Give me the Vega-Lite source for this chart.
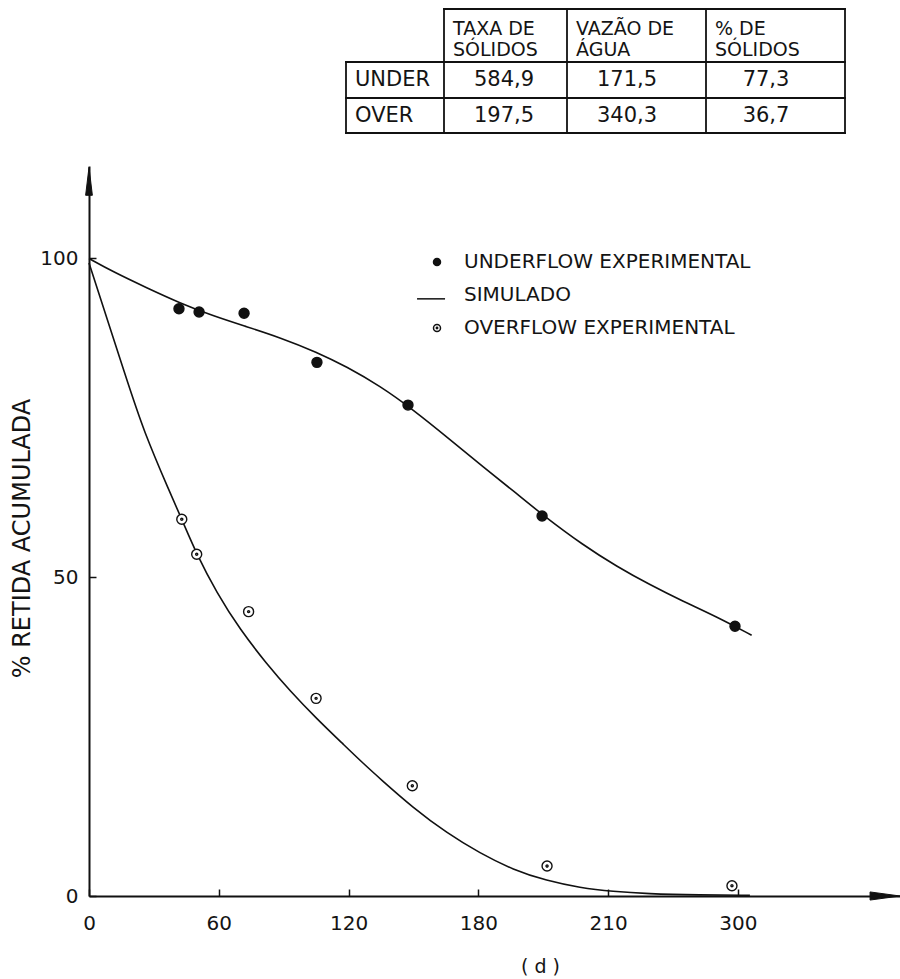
{
  "$schema": "https://vega.github.io/schema/vega-lite/v6.json",
  "width": 811,
  "height": 730,
  "autosize": "none",
  "padding": {"left": 89, "top": 166, "right": 0, "bottom": 83},
  "background": "white",
  "config": {
    "view": {"stroke": null},
    "font": "DejaVu Sans",
    "axis": {
      "grid": false,
      "labelFont": "DejaVu Sans",
      "labelFontSize": 20,
      "labelColor": "#141414",
      "titleFont": "DejaVu Sans",
      "titleFontWeight": "normal",
      "titleColor": "#141414",
      "domainColor": "#111111",
      "domainWidth": 2,
      "tickColor": "#111111",
      "tickWidth": 1.5,
      "labelFlush": false,
      "labelOverlap": false
    },
    "legend": {
      "title": null,
      "orient": "none",
      "legendX": 338,
      "legendY": 86,
      "padding": 0,
      "symbolSize": 49,
      "symbolStrokeWidth": 1.5,
      "labelFont": "DejaVu Sans",
      "labelFontSize": 20,
      "labelColor": "#141414",
      "labelOffset": 17,
      "labelLimit": 0,
      "rowPadding": 13
    }
  },
  "datasets": {
    "experimental": [
      {"serie": "UNDERFLOW EXPERIMENTAL", "d": 41.6, "retida": 92.1},
      {"serie": "UNDERFLOW EXPERIMENTAL", "d": 50.9, "retida": 91.6},
      {"serie": "UNDERFLOW EXPERIMENTAL", "d": 71.7, "retida": 91.4},
      {"serie": "UNDERFLOW EXPERIMENTAL", "d": 105.4, "retida": 83.7},
      {"serie": "UNDERFLOW EXPERIMENTAL", "d": 147.5, "retida": 77.0},
      {"serie": "UNDERFLOW EXPERIMENTAL", "d": 209.5, "retida": 59.6},
      {"serie": "UNDERFLOW EXPERIMENTAL", "d": 298.7, "retida": 42.3},
      {"serie": "OVERFLOW EXPERIMENTAL", "d": 42.9, "retida": 59.1},
      {"serie": "OVERFLOW EXPERIMENTAL", "d": 49.8, "retida": 53.6},
      {"serie": "OVERFLOW EXPERIMENTAL", "d": 73.8, "retida": 44.6},
      {"serie": "OVERFLOW EXPERIMENTAL", "d": 105.0, "retida": 31.0},
      {"serie": "OVERFLOW EXPERIMENTAL", "d": 149.5, "retida": 17.3},
      {"serie": "OVERFLOW EXPERIMENTAL", "d": 211.8, "retida": 4.7},
      {"serie": "OVERFLOW EXPERIMENTAL", "d": 297.3, "retida": 1.6}
    ],
    "simulado": [
      {"curva": "underflow", "d": 0, "retida": 100.0},
      {"curva": "underflow", "d": 11.2, "retida": 97.9},
      {"curva": "underflow", "d": 26.7, "retida": 95.4},
      {"curva": "underflow", "d": 42.1, "retida": 93.0},
      {"curva": "underflow", "d": 57.3, "retida": 91.0},
      {"curva": "underflow", "d": 72.9, "retida": 89.3},
      {"curva": "underflow", "d": 88.3, "retida": 87.6},
      {"curva": "underflow", "d": 105.4, "retida": 85.3},
      {"curva": "underflow", "d": 119.2, "retida": 83.0},
      {"curva": "underflow", "d": 134.5, "retida": 80.0},
      {"curva": "underflow", "d": 149.8, "retida": 76.3},
      {"curva": "underflow", "d": 166.9, "retida": 71.6},
      {"curva": "underflow", "d": 182.3, "retida": 67.3},
      {"curva": "underflow", "d": 197.8, "retida": 63.1},
      {"curva": "underflow", "d": 209.6, "retida": 59.8},
      {"curva": "underflow", "d": 228.6, "retida": 55.0},
      {"curva": "underflow", "d": 244.0, "retida": 51.7},
      {"curva": "underflow", "d": 259.4, "retida": 48.8},
      {"curva": "underflow", "d": 274.8, "retida": 46.2},
      {"curva": "underflow", "d": 290.2, "retida": 43.8},
      {"curva": "underflow", "d": 306.4, "retida": 40.9},
      {"curva": "overflow", "d": 0, "retida": 99.3},
      {"curva": "overflow", "d": 18.0, "retida": 80.4},
      {"curva": "overflow", "d": 25.1, "retida": 73.1},
      {"curva": "overflow", "d": 37.5, "retida": 63.2},
      {"curva": "overflow", "d": 42.9, "retida": 59.1},
      {"curva": "overflow", "d": 49.8, "retida": 53.6},
      {"curva": "overflow", "d": 59.0, "retida": 47.6},
      {"curva": "overflow", "d": 69.8, "retida": 41.8},
      {"curva": "overflow", "d": 82.2, "retida": 36.4},
      {"curva": "overflow", "d": 92.9, "retida": 32.2},
      {"curva": "overflow", "d": 105.3, "retida": 27.8},
      {"curva": "overflow", "d": 117.6, "retida": 23.8},
      {"curva": "overflow", "d": 126.8, "retida": 20.8},
      {"curva": "overflow", "d": 134.6, "retida": 18.4},
      {"curva": "overflow", "d": 150.0, "retida": 13.8},
      {"curva": "overflow", "d": 165.4, "retida": 9.9},
      {"curva": "overflow", "d": 180.8, "retida": 6.7},
      {"curva": "overflow", "d": 196.2, "retida": 4.1},
      {"curva": "overflow", "d": 211.6, "retida": 2.4},
      {"curva": "overflow", "d": 227.0, "retida": 1.3},
      {"curva": "overflow", "d": 242.4, "retida": 0.7},
      {"curva": "overflow", "d": 257.9, "retida": 0.35},
      {"curva": "overflow", "d": 282.5, "retida": 0.15},
      {"curva": "overflow", "d": 305.6, "retida": 0.1}
    ],
    "setas": [
      {"eixo": "d", "d": 368.1, "retida": 0},
      {"eixo": "retida", "d": 0, "retida": 112.1}
    ],
    "tabela_grade": [
      {"c1": 1, "l1": 0, "c2": 4, "l2": 0},
      {"c1": 0, "l1": 1, "c2": 4, "l2": 1},
      {"c1": 0, "l1": 2, "c2": 4, "l2": 2},
      {"c1": 0, "l1": 3, "c2": 4, "l2": 3},
      {"c1": 0, "l1": 1, "c2": 0, "l2": 3},
      {"c1": 1, "l1": 0, "c2": 1, "l2": 3},
      {"c1": 2, "l1": 0, "c2": 2, "l2": 3},
      {"c1": 3, "l1": 0, "c2": 3, "l2": 3},
      {"c1": 4, "l1": 0, "c2": 4, "l2": 3}
    ],
    "tabela_texto": [
      {"c1": 1, "l1": 0, "tipo": "cabecalho", "texto": "TAXA DE\nSÓLIDOS"},
      {"c1": 2, "l1": 0, "tipo": "cabecalho", "texto": "VAZÃO DE\nÁGUA"},
      {"c1": 3, "l1": 0, "tipo": "cabecalho", "texto": "% DE\nSÓLIDOS"},
      {"c1": 0, "l1": 1, "tipo": "fluxo", "texto": "UNDER"},
      {"c1": 1, "l1": 1, "tipo": "valor", "texto": "584,9"},
      {"c1": 2, "l1": 1, "tipo": "valor", "texto": "171,5"},
      {"c1": 3, "l1": 1, "tipo": "valor", "texto": "77,3"},
      {"c1": 0, "l1": 2, "tipo": "fluxo", "texto": "OVER"},
      {"c1": 1, "l1": 2, "tipo": "valor", "texto": "197,5"},
      {"c1": 2, "l1": 2, "tipo": "valor", "texto": "340,3"},
      {"c1": 3, "l1": 2, "tipo": "valor", "texto": "36,7"}
    ]
  },
  "layer": [
    {
      "encoding": {
        "x": {
          "field": "d",
          "type": "quantitative",
          "scale": {"domain": [0, 375], "nice": false, "zero": false},
          "axis": {
            "values": [0, 60, 120, 180, 240, 300],
            "labelExpr": "datum.value == 240 ? '210' : datum.label",
            "tickSize": -7,
            "labelPadding": 24,
            "title": "( d )",
            "titleFontSize": 19,
            "titleX": 451,
            "titleY": 70,
            "titleAlign": "center",
            "titleBaseline": "middle"
          }
        },
        "y": {
          "field": "retida",
          "type": "quantitative",
          "scale": {"domain": [0, 114.5], "nice": false, "zero": false},
          "axis": {
            "values": [0, 50, 100],
            "tickSize": -7,
            "labelPadding": 18,
            "title": "% RETIDA ACUMULADA",
            "titleFontSize": 24,
            "titleX": -67,
            "titleY": 372,
            "titleAlign": "center",
            "titleBaseline": "middle"
          }
        }
      },
      "layer": [
        {
          "data": {"name": "simulado"},
          "mark": {"type": "line", "color": "#111111", "strokeWidth": 1.6, "interpolate": "basis"},
          "encoding": {"detail": {"field": "curva"}}
        },
        {
          "data": {"name": "experimental"},
          "mark": {"type": "point", "size": 100, "strokeWidth": 1.4, "opacity": 1},
          "encoding": {
            "shape": {
              "field": "serie",
              "type": "nominal",
              "scale": {
                "domain": ["UNDERFLOW EXPERIMENTAL", "SIMULADO", "OVERFLOW EXPERIMENTAL"],
                "range": ["circle", "M-5.7,1.1H2.3", "M1,0A1,1,0,1,1,-1,0A1,1,0,1,1,1,0Z M0.2,0A0.2,0.2,0,1,1,-0.2,0A0.2,0.2,0,1,1,0.2,0Z"]
              }
            },
            "fill": {
              "field": "serie",
              "type": "nominal",
              "scale": {
                "domain": ["UNDERFLOW EXPERIMENTAL", "SIMULADO", "OVERFLOW EXPERIMENTAL"],
                "range": ["#111111", "white", "white"]
              }
            },
            "stroke": {
              "field": "serie",
              "type": "nominal",
              "scale": {
                "domain": ["UNDERFLOW EXPERIMENTAL", "SIMULADO", "OVERFLOW EXPERIMENTAL"],
                "range": ["#111111", "#111111", "#111111"]
              }
            }
          }
        },
        {
          "data": {"name": "setas"},
          "transform": [{"filter": "datum.eixo == 'd'"}],
          "mark": {"type": "point", "shape": "M1,0L-1,-0.27L-1,0.27Z", "size": 900, "filled": true, "fill": "#111111", "stroke": "#111111", "strokeWidth": 1, "opacity": 1}
        },
        {
          "data": {"name": "setas"},
          "transform": [{"filter": "datum.eixo == 'retida'"}],
          "mark": {"type": "point", "shape": "M0,-1L0.24,1L-0.24,1Z", "size": 784, "filled": true, "fill": "#111111", "stroke": "#111111", "strokeWidth": 1, "opacity": 1}
        }
      ]
    },
    {
      "encoding": {
        "x": {
          "field": "c1",
          "type": "quantitative",
          "scale": {"domain": [0, 1, 2, 3, 4], "range": [257, 355, 478, 617, 756], "nice": false, "zero": false},
          "axis": null
        },
        "y": {
          "field": "l1",
          "type": "quantitative",
          "scale": {"domain": [0, 1, 2, 3], "range": [-157, -104, -68, -33], "nice": false, "zero": false},
          "axis": null
        }
      },
      "layer": [
        {
          "data": {"name": "tabela_grade"},
          "mark": {"type": "rule", "color": "#111111", "strokeWidth": 1.8, "strokeCap": "square"},
          "encoding": {
            "x2": {"field": "c2"},
            "y2": {"field": "l2"}
          }
        },
        {
          "data": {"name": "tabela_texto"},
          "transform": [{"filter": "datum.tipo == 'cabecalho'"}],
          "mark": {"type": "text", "lineBreak": "\n", "lineHeight": 21, "align": "left", "baseline": "middle", "dx": 9, "dy": 20, "fontSize": 19, "font": "DejaVu Sans", "color": "#141414"},
          "encoding": {"text": {"field": "texto"}}
        },
        {
          "data": {"name": "tabela_texto"},
          "transform": [{"filter": "datum.tipo == 'fluxo'"}],
          "mark": {"type": "text", "align": "left", "baseline": "middle", "dx": 9, "dy": 18, "fontSize": 21, "font": "DejaVu Sans", "color": "#141414"},
          "encoding": {"text": {"field": "texto"}}
        },
        {
          "data": {"name": "tabela_texto"},
          "transform": [{"filter": "datum.tipo == 'valor'"}],
          "mark": {"type": "text", "align": "center", "baseline": "middle", "dx": 60, "dy": 18, "fontSize": 21, "font": "DejaVu Sans", "color": "#141414"},
          "encoding": {"text": {"field": "texto"}}
        }
      ]
    }
  ],
  "resolve": {"scale": {"x": "independent", "y": "independent"}}
}
